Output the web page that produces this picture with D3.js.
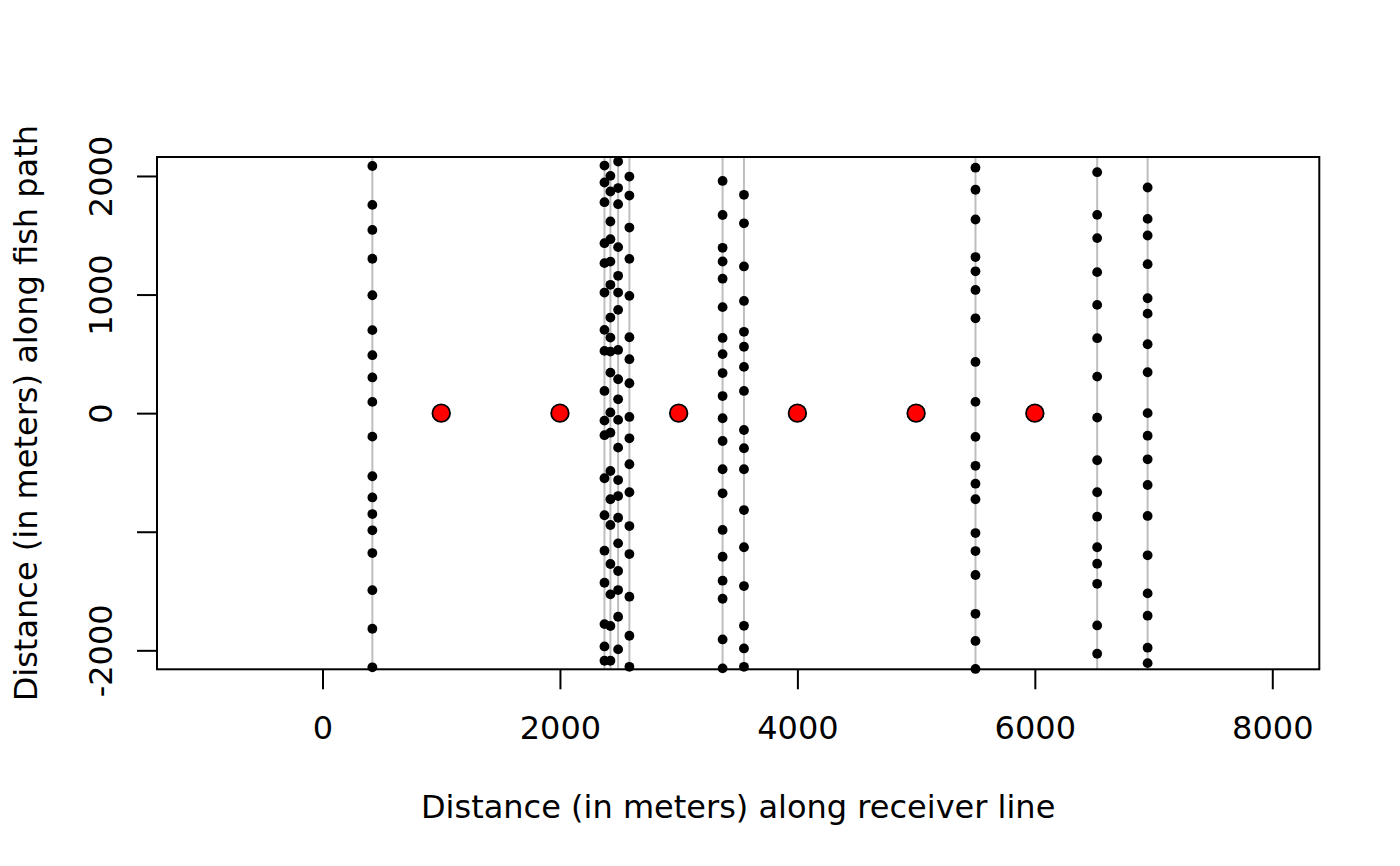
<!DOCTYPE html>
<html>
<head>
<meta charset="utf-8">
<script src="https://cdn.jsdelivr.net/npm/d3@7"></script>
<style>
    body { margin: 0; background: #ffffff; }
    svg text { font-family: "DejaVu Sans", sans-serif; fill: #000000; }
</style>
</head>
<body>
<div id="chart"></div>
<script>

// receiver positions along the line (m)
var receiverX = [420, 2375, 2425, 2490, 2585, 3370, 3550, 5500, 6525, 6950];

// detection positions along the fish path, one array per receiver (m)
var dets420 = [2084, 1756, 1545, 1302, 994, 700, 489, 301, 95, -198, -532, -711, -851, -988, -1180, -1493, -1818, -2143];
var dets2375 = [2088, 1945, 1779, 1433, 1265, 1017, 702, 525, 187, -63, -186, -549, -861, -1160, -1430, -1779, -1967, -2088];
var dets2425 = [2001, 1869, 1616, 1467, 1278, 1082, 806, 637, 519, 342, 6, -165, -488, -726, -943, -1272, -1528, -1795, -2088];
var dets2490 = [2122, 1898, 1762, 1400, 1158, 1017, 871, 533, 286, 117, -57, -291, -564, -699, -882, -1098, -1331, -1492, -1717, -1992];
var dets2585 = [1995, 1835, 1565, 1301, 989, 640, 455, 252, -32, -212, -431, -667, -952, -1188, -1548, -1877, -2139];
var dets3370 = [1958, 1671, 1394, 1279, 1134, 894, 634, 498, 338, 144, -43, -235, -473, -676, -985, -1211, -1413, -1565, -1908, -2152];
var dets3550 = [1841, 1601, 1237, 946, 686, 560, 390, 187, -142, -296, -473, -817, -1131, -1458, -1793, -1984, -2139];
var dets5500 = [2070, 1884, 1633, 1316, 1196, 1039, 800, 432, 95, -200, -444, -595, -726, -1011, -1163, -1365, -1692, -1921, -2157];
var dets6525 = [2032, 1672, 1476, 1189, 913, 632, 308, -38, -397, -667, -873, -1131, -1270, -1439, -1790, -2029];
var dets6950 = [1903, 1638, 1498, 1256, 969, 839, 581, 345, 0, -190, -389, -606, -867, -1199, -1520, -1708, -1978, -2108];

var receiverDets = [dets420, dets2375, dets2425, dets2490, dets2585,
                    dets3370, dets3550, dets5500, dets6525, dets6950];

// tag release points
var tagX = [1000, 2000, 3000, 4000, 5000, 6000];
var tagY = [0, 0, 0, 0, 0, 0];

// axes
var xTicks = [0, 2000, 4000, 6000, 8000];
var yTicks = [-2000, -1000, 0, 1000, 2000];
var yTickLabels = ['-2000', '', '0', '1000', '2000']; // -1000 is dropped, as in the original

var xTitle = 'Distance (in meters) along receiver line';
var yTitle = 'Distance (in meters) along fish path';

var config = {
    w: 1400,
    h: 866,
    left: 157,
    right: 1319.3,
    top: 157,
    bottom: 669.3,
    xdomain: [-1394, 8396],
    ydomain: [-2160, 2160],
    fontsize: 32,
    ticklen: 20,
    linecolor: '#bebebe',
    dotr: 4.9,
    tagr: 8.8,
    tagcolor: '#ff0000',
};

var c = config;

var svg = d3.select('#chart').append('svg')
    .attr('width', c.w)
    .attr('height', c.h);

var x = d3.scaleLinear().domain(c.xdomain).range([c.left, c.right]);
var y = d3.scaleLinear().domain(c.ydomain).range([c.bottom, c.top]);

// flatten detections into points
var detPoints = [];
receiverX.forEach(function(rx, i) {
    receiverDets[i].forEach(function(v) {
        detPoints.push({ x: rx, y: v });
    });
});

// receiver lines
svg.append('g').selectAll('line')
    .data(receiverX)
    .enter().append('line')
    .attr('x1', function(d) { return x(d); })
    .attr('x2', function(d) { return x(d); })
    .attr('y1', c.top)
    .attr('y2', c.bottom)
    .attr('stroke', c.linecolor)
    .attr('stroke-width', 2);

// detections
svg.append('g').selectAll('circle')
    .data(detPoints)
    .enter().append('circle')
    .attr('cx', function(d) { return x(d.x); })
    .attr('cy', function(d) { return y(d.y); })
    .attr('r', c.dotr)
    .attr('fill', '#000000');

// tags
svg.append('g').selectAll('circle')
    .data(tagX)
    .enter().append('circle')
    .attr('cx', function(d) { return x(d); })
    .attr('cy', function(d, i) { return y(tagY[i]); })
    .attr('r', c.tagr)
    .attr('fill', c.tagcolor)
    .attr('stroke', '#000000')
    .attr('stroke-width', 1.8);

// box
svg.append('rect')
    .attr('x', c.left)
    .attr('y', c.top)
    .attr('width', c.right - c.left)
    .attr('height', c.bottom - c.top)
    .attr('fill', 'none')
    .attr('stroke', '#000000')
    .attr('stroke-width', 2);

// x axis
var gx = svg.append('g')
    .attr('transform', 'translate(0,' + c.bottom + ')')
    .call(d3.axisBottom(x).tickValues(xTicks).tickSize(c.ticklen).tickFormat(d3.format('d')));
gx.select('.domain').remove();
gx.selectAll('.tick line').attr('stroke', '#000000').attr('stroke-width', 2);
gx.selectAll('.tick text')
    .attr('y', 69.7)
    .attr('dy', 0)
    .style('font-size', c.fontsize + 'px');

// y axis, labels parallel to the axis
var gy = svg.append('g')
    .attr('transform', 'translate(' + c.left + ',0)')
    .call(d3.axisLeft(y).tickValues(yTicks).tickSize(c.ticklen)
        .tickFormat(function(d, i) { return yTickLabels[i]; }));
gy.select('.domain').remove();
gy.selectAll('.tick line').attr('stroke', '#000000').attr('stroke-width', 2);
gy.selectAll('.tick text')
    .attr('x', 0)
    .attr('dy', 0)
    .attr('text-anchor', 'middle')
    .attr('transform', 'translate(-45,0) rotate(-90)')
    .style('font-size', c.fontsize + 'px');

// titles
svg.append('text')
    .attr('x', (c.left + c.right) / 2)
    .attr('y', 818.3)
    .attr('text-anchor', 'middle')
    .style('font-size', c.fontsize + 'px')
    .text(xTitle);

svg.append('text')
    .attr('transform', 'translate(37,' + ((c.top + c.bottom) / 2) + ') rotate(-90)')
    .attr('text-anchor', 'middle')
    .style('font-size', c.fontsize + 'px')
    .text(yTitle);

</script>
</body>
</html>
